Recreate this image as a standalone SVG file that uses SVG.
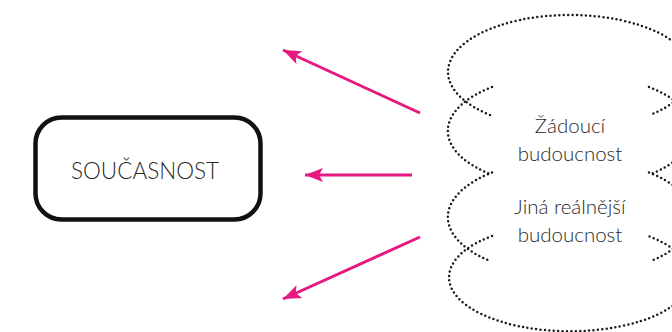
<svg xmlns="http://www.w3.org/2000/svg" width="672" height="332" viewBox="0 0 672 332">
<style>
.dot{fill:none;stroke:#1a1a1a;stroke-width:2.5;stroke-dasharray:0 4.4;stroke-linecap:round}
.lbl{font-family:Lato,"Liberation Sans",sans-serif;font-weight:300;font-size:20.5px;fill:#2a2a2a;text-anchor:middle}
.arr{stroke:#E5197F;stroke-width:3;fill:none;marker-end:url(#ah)}
</style>
<defs>
<marker id="ah" markerUnits="userSpaceOnUse" markerWidth="20" markerHeight="16" refX="18" refY="7" orient="auto" viewBox="0 0 20 14">
<path d="M0,0 L18,7 L0,14 L4,7 z" fill="#E5197F"/>
</marker>
</defs>
<g id="soucasnost">
<rect x="35.5" y="117.5" width="225" height="102" rx="26" fill="#fff" stroke="#111" stroke-width="4.5"/>
<text class="lbl" x="145" y="178.5" style="font-size:22.5px">SOUČASNOST</text>
</g>
<g id="budoucnost-cloud">
<path class="dot" d="M490,115 A122,57 0 1 1 650,115"/>
<path class="dot" d="M492,236 A121,54 0 1 0 648,236"/>
<g id="lobes-left">
<path class="dot" d="M492,87 A122,57 0 0 0 490,174"/>
<path class="dot" d="M492,172.5 A122,58 0 0 0 490,261"/>
</g>
<g id="lobes-right" transform="translate(1141,0) scale(-1,1)">
<path class="dot" d="M492,87 A122,57 0 0 0 490,174"/>
<path class="dot" d="M492,172.5 A122,58 0 0 0 490,261"/>
</g>
<text class="lbl" x="570" y="133">Žádoucí</text>
<text class="lbl" x="570" y="161">budoucnost</text>
<text class="lbl" x="570" y="213.5">Jiná reálnější</text>
<text class="lbl" x="570" y="242">budoucnost</text>
</g>
<g id="connectors">
<line class="arr" x1="420" y1="113" x2="283" y2="50"/>
<line class="arr" x1="412" y1="175" x2="305" y2="175"/>
<line class="arr" x1="420" y1="237" x2="283" y2="299"/>
</g>
</svg>
